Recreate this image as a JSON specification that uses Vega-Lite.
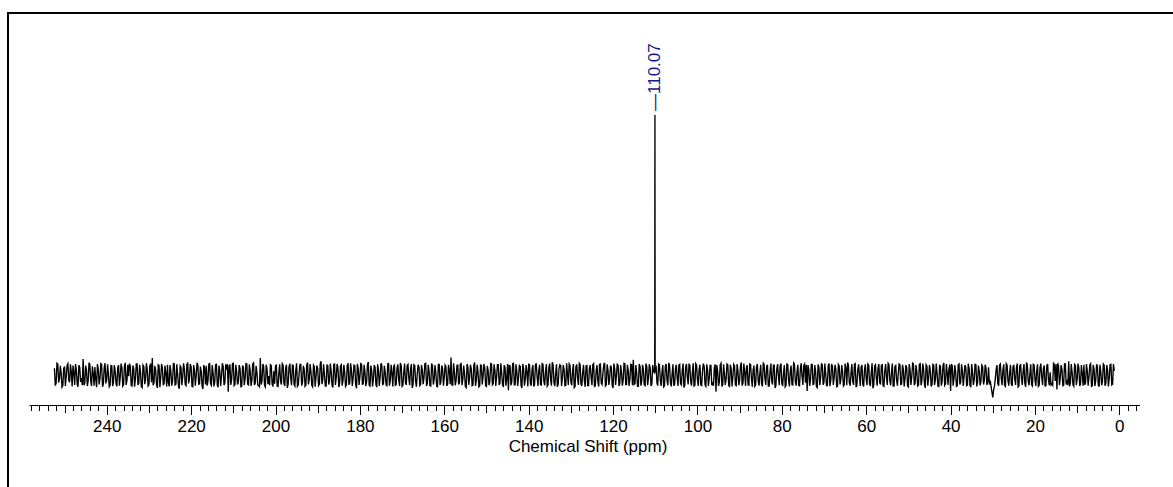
{
"$schema": "https://vega.github.io/schema/vega-lite/v6.json",
"width": 1170,
"height": 480,
"autosize": {"type": "none"},
"padding": {"left": 8, "top": 13, "right": 0, "bottom": 0},
"background": "white",
"config": {"view": {"stroke": "black", "strokeWidth": 2}, "font": "Liberation Sans"},
"datasets": {
"spectrum": [
{"p":252.4,"i":1.8},{"p":252.0,"i":-2.3},{"p":251.6,"i":2.9},{"p":251.2,"i":-1.1},{"p":250.8,"i":0.6},{"p":250.4,"i":-2.8},{"p":250.0,"i":2.2},{"p":249.6,"i":-0.4},{"p":249.2,"i":3.0},{"p":248.8,"i":-1.9},
{"p":248.4,"i":0.9},{"p":248.0,"i":2.5},{"p":247.6,"i":-2.6},{"p":247.2,"i":1.4},{"p":246.8,"i":-3.1},{"p":246.4,"i":2.0},{"p":246.0,"i":-0.8},{"p":245.6,"i":4.2},{"p":245.2,"i":-2.2},{"p":244.8,"i":1.3},
{"p":244.4,"i":-1.6},{"p":244.0,"i":2.7},{"p":243.6,"i":-2.9},{"p":243.2,"i":0.4},{"p":242.8,"i":2.1},{"p":242.4,"i":-3.2},{"p":242.0,"i":1.5},{"p":241.6,"i":-0.9},{"p":241.2,"i":2.8},{"p":240.8,"i":-2.4},
{"p":240.4,"i":3.1},{"p":240.0,"i":-1.3},{"p":239.6,"i":0.2},{"p":239.2,"i":-2.7},{"p":238.8,"i":2.4},{"p":238.4,"i":-1.8},{"p":238.0,"i":1.1},{"p":237.6,"i":-3.0},{"p":237.2,"i":2.6},{"p":236.8,"i":-0.6},
{"p":236.4,"i":1.9},{"p":236.0,"i":-2.5},{"p":235.6,"i":3.2},{"p":235.2,"i":-1.4},{"p":234.8,"i":-0.3},{"p":234.4,"i":2.3},{"p":234.0,"i":-2.9},{"p":233.6,"i":1.6},{"p":233.2,"i":-1.0},{"p":232.8,"i":2.9},
{"p":232.4,"i":-2.1},{"p":232.0,"i":0.8},{"p":231.6,"i":-3.3},{"p":231.2,"i":2.2},{"p":230.8,"i":-1.2},{"p":230.4,"i":1.4},{"p":230.0,"i":-2.6},{"p":229.6,"i":3.0},{"p":229.2,"i":4.5},{"p":228.8,"i":-2.0},
{"p":228.4,"i":1.2},{"p":228.0,"i":-3.4},{"p":227.6,"i":2.5},{"p":227.2,"i":-0.7},{"p":226.8,"i":1.8},{"p":226.4,"i":-2.2},{"p":226.0,"i":0.5},{"p":225.6,"i":2.7},{"p":225.2,"i":-3.0},{"p":224.8,"i":1.0},
{"p":224.4,"i":-1.7},{"p":224.0,"i":2.9},{"p":223.6,"i":-2.4},{"p":223.2,"i":0.3},{"p":222.8,"i":-3.6},{"p":222.4,"i":2.0},{"p":222.0,"i":-0.5},{"p":221.6,"i":1.6},{"p":221.2,"i":-2.8},{"p":220.8,"i":3.3},
{"p":220.4,"i":-1.0},{"p":220.0,"i":2.2},{"p":219.6,"i":-3.1},{"p":219.2,"i":1.3},{"p":218.8,"i":-0.2},{"p":218.4,"i":2.6},{"p":218.0,"i":-2.3},{"p":217.6,"i":0.9},{"p":217.2,"i":-3.7},{"p":216.8,"i":1.9},
{"p":216.4,"i":2.4},{"p":216.0,"i":-1.5},{"p":215.6,"i":3.0},{"p":215.2,"i":-2.7},{"p":214.8,"i":0.7},{"p":214.4,"i":-1.9},{"p":214.0,"i":2.8},{"p":213.6,"i":-3.2},{"p":213.2,"i":1.1},{"p":212.8,"i":-0.4},
{"p":212.4,"i":2.3},{"p":212.0,"i":-2.0},{"p":211.6,"i":1.4},{"p":211.2,"i":-4.4},{"p":210.8,"i":2.6},{"p":210.4,"i":-1.2},{"p":210.0,"i":3.1},{"p":209.6,"i":-2.5},{"p":209.2,"i":0.8},{"p":208.8,"i":-1.8},
{"p":208.4,"i":1.7},{"p":208.0,"i":-3.0},{"p":207.6,"i":2.0},{"p":207.2,"i":-0.9},{"p":206.8,"i":2.9},{"p":206.4,"i":-2.6},{"p":206.0,"i":1.2},{"p":205.6,"i":-1.4},{"p":205.2,"i":3.2},{"p":204.8,"i":-2.1},
{"p":204.4,"i":0.6},{"p":204.0,"i":-2.8},{"p":203.6,"i":4.5},{"p":203.2,"i":-1.6},{"p":202.8,"i":2.3},{"p":202.4,"i":-3.2},{"p":202.0,"i":1.5},{"p":201.6,"i":-0.3},{"p":201.2,"i":2.7},{"p":200.8,"i":-2.4},
{"p":200.4,"i":1.0},{"p":200.0,"i":2.4},{"p":199.6,"i":-2.9},{"p":199.2,"i":0.5},{"p":198.8,"i":-1.7},{"p":198.4,"i":3.0},{"p":198.0,"i":-2.2},{"p":197.6,"i":1.8},{"p":197.2,"i":-3.4},{"p":196.8,"i":2.1},
{"p":196.4,"i":-0.8},{"p":196.0,"i":2.6},{"p":195.6,"i":-2.5},{"p":195.2,"i":1.2},{"p":194.8,"i":-3.0},{"p":194.4,"i":0.4},{"p":194.0,"i":2.8},{"p":193.6,"i":-1.9},{"p":193.2,"i":1.5},{"p":192.8,"i":-2.7},
{"p":192.4,"i":3.3},{"p":192.0,"i":-1.1},{"p":191.6,"i":0.9},{"p":191.2,"i":-3.1},{"p":190.8,"i":2.2},{"p":190.4,"i":-0.6},{"p":190.0,"i":1.7},{"p":189.6,"i":-2.4},{"p":189.2,"i":3.6},{"p":188.8,"i":-1.3},
{"p":188.4,"i":0.2},{"p":188.0,"i":-2.9},{"p":187.6,"i":2.5},{"p":187.2,"i":-1.6},{"p":186.8,"i":1.0},{"p":186.4,"i":-3.3},{"p":186.0,"i":2.9},{"p":185.6,"i":-0.7},{"p":185.2,"i":1.9},{"p":184.8,"i":-2.2},
{"p":184.4,"i":2.7},{"p":184.0,"i":-1.4},{"p":183.6,"i":0.6},{"p":183.2,"i":-2.6},{"p":182.8,"i":3.1},{"p":182.4,"i":-2.0},{"p":182.0,"i":1.3},{"p":181.6,"i":-0.9},{"p":181.2,"i":2.4},{"p":180.8,"i":-3.5},
{"p":180.4,"i":1.6},{"p":180.0,"i":-0.5},{"p":179.6,"i":2.8},{"p":179.2,"i":-2.3},{"p":178.8,"i":0.9},{"p":178.4,"i":-1.8},{"p":178.0,"i":3.4},{"p":177.6,"i":-2.9},{"p":177.2,"i":1.1},{"p":176.8,"i":-1.0},
{"p":176.4,"i":2.0},{"p":176.0,"i":-3.2},{"p":175.6,"i":1.4},{"p":175.2,"i":-0.4},{"p":174.8,"i":2.6},{"p":174.4,"i":-2.1},{"p":174.0,"i":0.7},{"p":173.6,"i":-2.8},{"p":173.2,"i":3.0},{"p":172.8,"i":-1.5},
{"p":172.4,"i":0.5},{"p":172.0,"i":2.3},{"p":171.6,"i":-2.7},{"p":171.2,"i":1.8},{"p":170.8,"i":-1.2},{"p":170.4,"i":3.2},{"p":170.0,"i":-3.0},{"p":169.6,"i":0.8},{"p":169.2,"i":-2.0},{"p":168.8,"i":2.5},
{"p":168.4,"i":-0.9},{"p":168.0,"i":1.5},{"p":167.6,"i":-3.4},{"p":167.2,"i":2.7},{"p":166.8,"i":-1.6},{"p":166.4,"i":0.3},{"p":166.0,"i":2.1},{"p":165.6,"i":-2.5},{"p":165.2,"i":1.2},{"p":164.8,"i":-0.7},
{"p":164.4,"i":3.1},{"p":164.0,"i":-2.2},{"p":163.6,"i":1.0},{"p":163.2,"i":-2.9},{"p":162.8,"i":2.4},{"p":162.4,"i":-1.3},{"p":162.0,"i":0.6},{"p":161.6,"i":-3.1},{"p":161.2,"i":2.8},{"p":160.8,"i":-1.8},
{"p":160.4,"i":1.7},{"p":160.0,"i":-0.6},{"p":159.6,"i":2.2},{"p":159.2,"i":-2.4},{"p":158.8,"i":1.3},{"p":158.4,"i":4.6},{"p":158.0,"i":-2.7},{"p":157.6,"i":0.9},{"p":157.2,"i":-1.5},{"p":156.8,"i":2.6},
{"p":156.4,"i":-2.0},{"p":156.0,"i":3.0},{"p":155.6,"i":-1.1},{"p":155.2,"i":0.4},{"p":154.8,"i":-3.3},{"p":154.4,"i":2.1},{"p":154.0,"i":-0.8},{"p":153.6,"i":1.6},{"p":153.2,"i":-2.6},{"p":152.8,"i":3.3},
{"p":152.4,"i":-1.4},{"p":152.0,"i":0.8},{"p":151.6,"i":-2.8},{"p":151.2,"i":2.5},{"p":150.8,"i":-0.3},{"p":150.4,"i":1.9},{"p":150.0,"i":-3.0},{"p":149.6,"i":1.1},{"p":149.2,"i":-1.7},{"p":148.8,"i":2.9},
{"p":148.4,"i":-2.3},{"p":148.0,"i":1.3},{"p":147.6,"i":-0.5},{"p":147.2,"i":2.7},{"p":146.8,"i":-2.1},{"p":146.4,"i":0.6},{"p":146.0,"i":-3.2},{"p":145.6,"i":2.0},{"p":145.2,"i":-1.0},{"p":144.8,"i":-4.0},
{"p":144.4,"i":2.4},{"p":144.0,"i":-1.9},{"p":143.6,"i":3.1},{"p":143.2,"i":-2.6},{"p":142.8,"i":1.0},{"p":142.4,"i":-0.7},{"p":142.0,"i":2.3},{"p":141.6,"i":-3.4},{"p":141.2,"i":1.8},{"p":140.8,"i":-1.2},
{"p":140.4,"i":0.7},{"p":140.0,"i":2.8},{"p":139.6,"i":-2.2},{"p":139.2,"i":1.5},{"p":138.8,"i":-3.0},{"p":138.4,"i":2.6},{"p":138.0,"i":-0.4},{"p":137.6,"i":1.2},{"p":137.2,"i":-2.5},{"p":136.8,"i":3.0},
{"p":136.4,"i":-1.6},{"p":136.0,"i":0.9},{"p":135.6,"i":-2.9},{"p":135.2,"i":2.1},{"p":134.8,"i":-1.3},{"p":134.4,"i":3.4},{"p":134.0,"i":-2.0},{"p":133.6,"i":0.5},{"p":133.2,"i":-3.1},{"p":132.8,"i":1.7},
{"p":132.4,"i":2.5},{"p":132.0,"i":-0.8},{"p":131.6,"i":1.4},{"p":131.2,"i":-2.7},{"p":130.8,"i":0.2},{"p":130.4,"i":2.9},{"p":130.0,"i":-1.8},{"p":129.6,"i":1.0},{"p":129.2,"i":-3.3},{"p":128.8,"i":2.2},
{"p":128.4,"i":-1.1},{"p":128.0,"i":3.1},{"p":127.6,"i":-2.4},{"p":127.2,"i":0.7},{"p":126.8,"i":-1.5},{"p":126.4,"i":2.4},{"p":126.0,"i":-2.8},{"p":125.6,"i":1.9},{"p":125.2,"i":-0.6},{"p":124.8,"i":2.7},
{"p":124.4,"i":-3.0},{"p":124.0,"i":1.2},{"p":123.6,"i":-1.7},{"p":123.2,"i":2.8},{"p":122.8,"i":-2.1},{"p":122.4,"i":0.5},{"p":122.0,"i":3.2},{"p":121.6,"i":-2.6},{"p":121.2,"i":1.3},{"p":120.8,"i":-0.9},
{"p":120.4,"i":2.0},{"p":120.0,"i":-3.4},{"p":119.6,"i":1.6},{"p":119.2,"i":-0.3},{"p":118.8,"i":2.5},{"p":118.4,"i":-2.2},{"p":118.0,"i":0.8},{"p":117.6,"i":-1.4},{"p":117.2,"i":3.0},{"p":116.8,"i":-2.5},
{"p":116.4,"i":1.1},{"p":116.0,"i":-1.0},{"p":115.6,"i":2.7},{"p":115.2,"i":4.0},{"p":114.8,"i":-2.3},{"p":114.4,"i":0.6},{"p":114.0,"i":-3.0},{"p":113.6,"i":2.3},{"p":113.2,"i":-1.6},{"p":112.8,"i":1.4},
{"p":112.4,"i":-2.8},{"p":112.0,"i":2.2},{"p":111.6,"i":-0.7},{"p":111.2,"i":1.8},{"p":110.8,"i":-2.4},{"p":110.4,"i":1.0},{"p":110.12,"i":0.4},{"p":110.07,"i":68.42},{"p":110.02,"i":0.9},{"p":109.6,"i":-2.1},{"p":109.2,"i":2.9},{"p":108.8,"i":-1.3},
{"p":108.4,"i":0.8},{"p":108.0,"i":-3.1},{"p":107.6,"i":2.4},{"p":107.2,"i":-1.5},{"p":106.8,"i":3.2},{"p":106.4,"i":-2.0},{"p":106.0,"i":0.3},{"p":105.6,"i":-2.7},{"p":105.2,"i":1.7},{"p":104.8,"i":-0.8},
{"p":104.4,"i":2.6},{"p":104.0,"i":-2.3},{"p":103.6,"i":1.1},{"p":103.2,"i":-3.3},{"p":102.8,"i":2.0},{"p":102.4,"i":-0.5},{"p":102.0,"i":2.8},{"p":101.6,"i":-1.7},{"p":101.2,"i":0.6},{"p":100.8,"i":-2.9},
{"p":100.4,"i":3.0},{"p":100.0,"i":-1.2},{"p":99.6,"i":1.5},{"p":99.2,"i":-2.6},{"p":98.8,"i":0.9},{"p":98.4,"i":2.3},{"p":98.0,"i":-3.0},{"p":97.6,"i":1.4},{"p":97.2,"i":-0.9},{"p":96.8,"i":2.5},
{"p":96.4,"i":-2.2},{"p":96.0,"i":1.9},{"p":95.6,"i":-4.4},{"p":95.2,"i":1.0},{"p":94.8,"i":-1.8},{"p":94.4,"i":3.1},{"p":94.0,"i":-2.5},{"p":93.6,"i":0.4},{"p":93.2,"i":-1.1},{"p":92.8,"i":2.7},
{"p":92.4,"i":-3.2},{"p":92.0,"i":1.6},{"p":91.6,"i":-0.6},{"p":91.2,"i":2.4},{"p":90.8,"i":-2.8},{"p":90.4,"i":1.2},{"p":90.0,"i":-1.4},{"p":89.6,"i":3.3},{"p":89.2,"i":-2.1},{"p":88.8,"i":0.7},
{"p":88.4,"i":1.8},{"p":88.0,"i":-2.6},{"p":87.6,"i":2.9},{"p":87.2,"i":-0.9},{"p":86.8,"i":1.3},{"p":86.4,"i":-3.0},{"p":86.0,"i":2.1},{"p":85.6,"i":-1.5},{"p":85.2,"i":0.5},{"p":84.8,"i":-2.3},
{"p":84.4,"i":3.1},{"p":84.0,"i":-1.0},{"p":83.6,"i":2.2},{"p":83.2,"i":-2.9},{"p":82.8,"i":0.8},{"p":82.4,"i":-1.6},{"p":82.0,"i":2.6},{"p":81.6,"i":-3.4},{"p":81.2,"i":1.5},{"p":80.8,"i":-0.4},
{"p":80.4,"i":2.4},{"p":80.0,"i":-2.2},{"p":79.6,"i":0.6},{"p":79.2,"i":-3.1},{"p":78.8,"i":2.9},{"p":78.4,"i":-1.3},{"p":78.0,"i":1.0},{"p":77.6,"i":-2.5},{"p":77.2,"i":3.2},{"p":76.8,"i":-1.8},
{"p":76.4,"i":0.9},{"p":76.0,"i":-2.7},{"p":75.6,"i":1.7},{"p":75.2,"i":-0.5},{"p":74.8,"i":2.5},{"p":74.4,"i":-2.0},{"p":74.0,"i":-4.2},{"p":73.6,"i":1.4},{"p":73.2,"i":-1.2},{"p":72.8,"i":2.8},
{"p":72.4,"i":-2.4},{"p":72.0,"i":1.1},{"p":71.6,"i":-3.3},{"p":71.2,"i":2.0},{"p":70.8,"i":-0.7},{"p":70.4,"i":2.7},{"p":70.0,"i":-1.9},{"p":69.6,"i":0.4},{"p":69.2,"i":-2.8},{"p":68.8,"i":3.0},
{"p":68.4,"i":-1.5},{"p":68.0,"i":2.3},{"p":67.6,"i":-0.8},{"p":67.2,"i":1.6},{"p":66.8,"i":-3.0},{"p":66.4,"i":2.4},{"p":66.0,"i":-1.2},{"p":65.6,"i":0.9},{"p":65.2,"i":-2.6},{"p":64.8,"i":1.9},
{"p":64.4,"i":3.3},{"p":64.0,"i":-2.1},{"p":63.6,"i":0.5},{"p":63.2,"i":-1.7},{"p":62.8,"i":2.8},{"p":62.4,"i":-3.2},{"p":62.0,"i":1.3},{"p":61.6,"i":-0.3},{"p":61.2,"i":2.1},{"p":60.8,"i":-2.5},
{"p":60.4,"i":1.4},{"p":60.0,"i":-1.1},{"p":59.6,"i":2.9},{"p":59.2,"i":-2.3},{"p":58.8,"i":0.7},{"p":58.4,"i":-3.5},{"p":58.0,"i":2.4},{"p":57.6,"i":-0.9},{"p":57.2,"i":1.8},{"p":56.8,"i":-2.0},
{"p":56.4,"i":2.6},{"p":56.0,"i":-2.8},{"p":55.6,"i":1.0},{"p":55.2,"i":-0.6},{"p":54.8,"i":3.1},{"p":54.4,"i":-1.6},{"p":54.0,"i":0.8},{"p":53.6,"i":-2.9},{"p":53.2,"i":2.2},{"p":52.8,"i":-1.3},
{"p":52.4,"i":0.3},{"p":52.0,"i":2.7},{"p":51.6,"i":-2.4},{"p":51.2,"i":1.5},{"p":50.8,"i":-1.0},{"p":50.4,"i":2.0},{"p":50.0,"i":-3.1},{"p":49.6,"i":1.2},{"p":49.2,"i":-0.5},{"p":48.8,"i":2.9},
{"p":48.4,"i":-2.1},{"p":48.0,"i":0.9},{"p":47.6,"i":-2.7},{"p":47.2,"i":3.0},{"p":46.8,"i":-1.4},{"p":46.4,"i":1.7},{"p":46.0,"i":-3.4},{"p":45.6,"i":2.3},{"p":45.2,"i":-0.8},{"p":44.8,"i":1.1},
{"p":44.4,"i":-2.5},{"p":44.0,"i":2.6},{"p":43.6,"i":-1.2},{"p":43.2,"i":0.4},{"p":42.8,"i":-3.0},{"p":42.4,"i":2.2},{"p":42.0,"i":-1.7},{"p":41.6,"i":3.2},{"p":41.2,"i":-2.3},{"p":40.8,"i":0.6},
{"p":40.4,"i":1.5},{"p":40.0,"i":-4.2},{"p":39.6,"i":2.4},{"p":39.2,"i":-1.1},{"p":38.8,"i":0.7},{"p":38.4,"i":-2.8},{"p":38.0,"i":2.9},{"p":37.6,"i":-1.9},{"p":37.2,"i":1.2},{"p":36.8,"i":-0.4},
{"p":36.4,"i":2.1},{"p":36.0,"i":-2.6},{"p":35.6,"i":1.6},{"p":35.2,"i":-3.2},{"p":34.8,"i":0.8},{"p":34.4,"i":-1.3},{"p":34.0,"i":2.7},{"p":33.6,"i":-2.0},{"p":33.2,"i":1.0},{"p":32.8,"i":-1.6},
{"p":32.4,"i":2.2},{"p":32.0,"i":-1.4},{"p":31.6,"i":1.8},{"p":31.2,"i":-1.9},{"p":30.8,"i":-2.5},{"p":30.4,"i":-3.0},{"p":30.0,"i":-5.9},{"p":29.6,"i":-3.0},{"p":29.2,"i":1.4},{"p":28.8,"i":-2.3},
{"p":28.4,"i":2.6},{"p":28.0,"i":-0.7},{"p":27.6,"i":1.3},{"p":27.2,"i":-2.7},{"p":26.8,"i":3.0},{"p":26.4,"i":-1.5},{"p":26.0,"i":0.6},{"p":25.6,"i":-2.4},{"p":25.2,"i":2.3},{"p":24.8,"i":-1.0},
{"p":24.4,"i":1.9},{"p":24.0,"i":-3.1},{"p":23.6,"i":2.5},{"p":23.2,"i":-0.9},{"p":22.8,"i":1.1},{"p":22.4,"i":-2.2},{"p":22.0,"i":3.3},{"p":21.6,"i":-1.8},{"p":21.2,"i":0.4},{"p":20.8,"i":-2.6},
{"p":20.4,"i":2.8},{"p":20.0,"i":-1.2},{"p":19.6,"i":0.9},{"p":19.2,"i":-3.0},{"p":18.8,"i":2.0},{"p":18.4,"i":-0.5},{"p":18.0,"i":1.7},{"p":17.6,"i":-2.9},{"p":17.2,"i":2.4},{"p":16.8,"i":-1.4},
{"p":16.4,"i":0.7},{"p":16.0,"i":-2.3},{"p":15.6,"i":3.1},{"p":15.2,"i":-1.6},{"p":14.8,"i":-3.8},{"p":14.4,"i":2.2},{"p":14.0,"i":-0.8},{"p":13.6,"i":1.4},{"p":13.2,"i":-2.7},{"p":12.8,"i":2.9},
{"p":12.4,"i":-1.3},{"p":12.0,"i":3.6},{"p":11.6,"i":-2.1},{"p":11.2,"i":0.8},{"p":10.8,"i":-3.0},{"p":10.4,"i":2.5},{"p":10.0,"i":-1.1},{"p":9.6,"i":1.9},{"p":9.2,"i":-2.4},{"p":8.8,"i":0.5},
{"p":8.4,"i":2.7},{"p":8.0,"i":-2.0},{"p":7.6,"i":1.2},{"p":7.2,"i":-0.6},{"p":6.8,"i":3.0},{"p":6.4,"i":-2.8},{"p":6.0,"i":1.6},{"p":5.6,"i":-1.5},{"p":5.2,"i":2.3},{"p":4.8,"i":-3.1},
{"p":4.4,"i":0.9},{"p":4.0,"i":-1.7},{"p":3.6,"i":2.6},{"p":3.2,"i":-2.2},{"p":2.8,"i":1.4},{"p":2.4,"i":-0.9},{"p":2.0,"i":2.8},{"p":1.6,"i":-2.4},{"p":1.2,"i":1.1},
{"p":252.2,"i":-2.6},{"p":251.8,"i":3.1},{"p":251.4,"i":-2.0},{"p":251.0,"i":2.4},{"p":250.6,"i":-3.2},{"p":250.2,"i":1.7},{"p":249.8,"i":-2.9},{"p":249.4,"i":2.6},{"p":249.0,"i":-1.4},{"p":248.6,"i":2.8},
{"p":248.2,"i":-3.0},{"p":247.8,"i":0.7},{"p":247.4,"i":2.9},{"p":247.0,"i":-2.4},{"p":246.6,"i":2.6},{"p":246.2,"i":-1.8},{"p":245.8,"i":-2.7},{"p":245.4,"i":-2.7},{"p":245.0,"i":2.5},{"p":244.6,"i":-2.9},
{"p":244.2,"i":3.2},{"p":243.8,"i":-1.5},{"p":243.4,"i":2.3},{"p":243.0,"i":-2.8},{"p":242.6,"i":-1.2},{"p":242.2,"i":2.9},{"p":241.8,"i":-2.5},{"p":241.4,"i":3.0},{"p":241.0,"i":-3.1},{"p":240.6,"i":1.9},
{"p":240.2,"i":-2.2},{"p":239.8,"i":2.8},{"p":239.4,"i":-3.1},{"p":239.0,"i":2.5},{"p":238.6,"i":-2.9},{"p":238.2,"i":2.6},{"p":237.8,"i":-2.2},{"p":237.4,"i":1.9},{"p":237.0,"i":-2.8},{"p":236.6,"i":3.0},
{"p":236.2,"i":-2.9},{"p":235.8,"i":2.4},{"p":235.4,"i":-2.6},{"p":235.0,"i":2.7},{"p":234.6,"i":3.0},{"p":234.2,"i":-2.8},{"p":233.8,"i":2.5},{"p":233.4,"i":-3.1},{"p":233.0,"i":2.9},{"p":232.6,"i":-2.6},
{"p":232.2,"i":2.7},{"p":231.8,"i":-3.0},{"p":231.4,"i":2.6},{"p":231.0,"i":-2.4},{"p":230.6,"i":3.1},{"p":230.2,"i":-2.9},{"p":229.8,"i":2.3},{"p":229.4,"i":-1.9},{"p":229.0,"i":-2.7},{"p":228.6,"i":2.4},
{"p":228.2,"i":-2.5},{"p":227.8,"i":2.7},{"p":227.4,"i":-3.2},{"p":227.0,"i":2.9},{"p":226.6,"i":-2.7},{"p":226.2,"i":2.5},{"p":225.8,"i":-3.0},{"p":225.4,"i":-2.1},{"p":225.0,"i":2.6},{"p":224.6,"i":-2.8},
{"p":224.2,"i":3.0},{"p":223.8,"i":-2.6},{"p":223.4,"i":2.8},{"p":223.0,"i":-2.9},{"p":222.6,"i":2.4},{"p":222.2,"i":-2.7},{"p":221.8,"i":3.1},{"p":221.4,"i":-2.5},{"p":221.0,"i":2.7},{"p":220.6,"i":-2.2},
{"p":220.2,"i":2.9},{"p":219.8,"i":-3.0},{"p":219.4,"i":2.6},{"p":219.0,"i":-2.8},{"p":218.6,"i":3.2},{"p":218.2,"i":-2.4},{"p":217.8,"i":2.2},{"p":217.4,"i":-2.9},{"p":217.0,"i":2.6},{"p":216.6,"i":-2.5},
{"p":216.2,"i":-2.8},{"p":215.8,"i":2.9},{"p":215.4,"i":-2.3},{"p":215.0,"i":2.6},{"p":214.6,"i":-3.0},{"p":214.2,"i":2.7},{"p":213.8,"i":-2.6},{"p":213.4,"i":2.5},{"p":213.0,"i":-2.9},{"p":212.6,"i":3.1},
{"p":212.2,"i":-2.7},{"p":211.8,"i":2.8},{"p":211.4,"i":2.9},{"p":211.0,"i":2.4},{"p":210.6,"i":-2.6},{"p":210.2,"i":3.0},{"p":209.8,"i":-2.8},{"p":209.4,"i":2.7},{"p":209.0,"i":-2.5},{"p":208.6,"i":2.6},
{"p":208.2,"i":-3.1},{"p":207.8,"i":2.5},{"p":207.4,"i":-2.7},{"p":207.0,"i":3.0},{"p":206.6,"i":-2.4},{"p":206.2,"i":2.8},{"p":205.8,"i":-2.9},{"p":205.4,"i":2.9},{"p":205.0,"i":-2.6},{"p":204.6,"i":2.4},
{"p":204.2,"i":-2.6},{"p":203.8,"i":-3.1},{"p":203.4,"i":-2.5},{"p":203.0,"i":2.9},{"p":202.6,"i":-2.8},{"p":202.2,"i":2.7},{"p":201.8,"i":-2.4},{"p":201.4,"i":-2.7},{"p":201.0,"i":2.5},{"p":200.6,"i":-3.0},
{"p":200.2,"i":-2.3},{"p":199.8,"i":2.6},{"p":199.4,"i":-3.0},{"p":199.0,"i":2.8},{"p":198.6,"i":-2.5},{"p":198.2,"i":2.6},{"p":197.8,"i":-2.9},{"p":197.4,"i":2.7},{"p":197.0,"i":-2.4},{"p":196.6,"i":3.0},
{"p":196.2,"i":-2.7},{"p":195.8,"i":2.5},{"p":195.4,"i":-2.9},{"p":195.0,"i":3.1},{"p":194.6,"i":-2.6},{"p":194.2,"i":2.8},{"p":193.8,"i":-2.8},{"p":193.4,"i":2.4},{"p":193.0,"i":-3.0},{"p":192.6,"i":2.6},
{"p":192.2,"i":-2.5},{"p":191.8,"i":2.9},{"p":191.4,"i":-2.7},{"p":191.0,"i":2.6},{"p":190.6,"i":-3.1},{"p":190.2,"i":2.5},{"p":189.8,"i":-2.8},{"p":189.4,"i":2.9},{"p":189.0,"i":-2.4},{"p":188.6,"i":2.8},
{"p":188.2,"i":-2.9},{"p":187.8,"i":2.6},{"p":187.4,"i":-2.5},{"p":187.0,"i":3.0},{"p":186.6,"i":-2.7},{"p":186.2,"i":2.8},{"p":185.8,"i":-2.6},{"p":185.4,"i":2.9},{"p":185.0,"i":-3.2},{"p":184.6,"i":2.4},
{"p":184.2,"i":-2.8},{"p":183.8,"i":2.7},{"p":183.4,"i":-3.0},{"p":183.0,"i":2.5},{"p":182.6,"i":-2.6},{"p":182.2,"i":3.1},{"p":181.8,"i":-2.9},{"p":181.4,"i":2.6},{"p":181.0,"i":-2.5},{"p":180.6,"i":2.9},
{"p":180.2,"i":-2.6},{"p":179.8,"i":3.0},{"p":179.4,"i":-2.4},{"p":179.0,"i":2.7},{"p":178.6,"i":-2.9},{"p":178.2,"i":2.8},{"p":177.8,"i":-2.7},{"p":177.4,"i":2.5},{"p":177.0,"i":-3.0},{"p":176.6,"i":2.6},
{"p":176.2,"i":-2.5},{"p":175.8,"i":2.8},{"p":175.4,"i":-2.9},{"p":175.0,"i":3.1},{"p":174.6,"i":-2.7},{"p":174.2,"i":2.4},{"p":173.8,"i":-2.6},{"p":173.4,"i":2.9},{"p":173.0,"i":-2.8},{"p":172.6,"i":2.7},
{"p":172.2,"i":-3.0},{"p":171.8,"i":2.6},{"p":171.4,"i":-2.5},{"p":171.0,"i":2.8},{"p":170.6,"i":-2.9},{"p":170.2,"i":2.4},{"p":169.8,"i":-2.7},{"p":169.4,"i":3.0},{"p":169.0,"i":-2.6},{"p":168.6,"i":2.8},
{"p":168.2,"i":-2.7},{"p":167.8,"i":2.9},{"p":167.4,"i":-2.6},{"p":167.0,"i":2.5},{"p":166.6,"i":-3.1},{"p":166.2,"i":2.7},{"p":165.8,"i":-2.8},{"p":165.4,"i":2.6},{"p":165.0,"i":-2.4},{"p":164.6,"i":3.0},
{"p":164.2,"i":-2.9},{"p":163.8,"i":2.7},{"p":163.4,"i":-2.8},{"p":163.0,"i":3.0},{"p":162.6,"i":-2.5},{"p":162.2,"i":2.6},{"p":161.8,"i":-3.0},{"p":161.4,"i":2.8},{"p":161.0,"i":-2.6},{"p":160.6,"i":2.5},
{"p":160.2,"i":-2.8},{"p":159.8,"i":2.6},{"p":159.4,"i":-2.9},{"p":159.0,"i":2.7},{"p":158.6,"i":-2.4},{"p":158.2,"i":-2.6},{"p":157.8,"i":3.1},{"p":157.4,"i":-2.7},{"p":157.0,"i":2.5},{"p":156.6,"i":-2.5},
{"p":156.2,"i":2.8},{"p":155.8,"i":-2.7},{"p":155.4,"i":2.5},{"p":155.0,"i":-3.0},{"p":154.6,"i":2.9},{"p":154.2,"i":-2.6},{"p":153.8,"i":2.7},{"p":153.4,"i":-2.8},{"p":153.0,"i":2.6},{"p":152.6,"i":-2.9},
{"p":152.2,"i":2.7},{"p":151.8,"i":-3.1},{"p":151.4,"i":2.6},{"p":151.0,"i":-2.5},{"p":150.6,"i":2.9},{"p":150.2,"i":-2.8},{"p":149.8,"i":2.4},{"p":149.4,"i":-2.7},{"p":149.0,"i":3.0},{"p":148.6,"i":-2.6},
{"p":148.2,"i":2.8},{"p":147.8,"i":-2.9},{"p":147.4,"i":2.7},{"p":147.0,"i":-2.6},{"p":146.6,"i":3.1},{"p":146.2,"i":-2.4},{"p":145.8,"i":2.6},{"p":145.4,"i":-2.8},{"p":145.0,"i":2.9},{"p":144.6,"i":2.5},
{"p":144.2,"i":-2.7},{"p":143.8,"i":3.0},{"p":143.4,"i":-2.6},{"p":143.0,"i":2.8},{"p":142.6,"i":-2.9},{"p":142.2,"i":2.5},{"p":141.8,"i":-2.7},{"p":141.4,"i":2.9},{"p":141.0,"i":-2.8},{"p":140.6,"i":2.6},
{"p":140.2,"i":-3.0},{"p":139.8,"i":2.7},{"p":139.4,"i":-2.8},{"p":139.0,"i":2.6},{"p":138.6,"i":-2.5},{"p":138.2,"i":3.1},{"p":137.8,"i":-2.9},{"p":137.4,"i":2.7},{"p":137.0,"i":-2.6},{"p":136.6,"i":2.8},
{"p":136.2,"i":-2.7},{"p":135.8,"i":2.9},{"p":135.4,"i":-2.5},{"p":135.0,"i":3.0},{"p":134.6,"i":-2.8},{"p":134.2,"i":2.6},{"p":133.8,"i":-2.9},{"p":133.4,"i":2.8},{"p":133.0,"i":-2.4},{"p":132.6,"i":2.7},
{"p":132.2,"i":-2.9},{"p":131.8,"i":2.6},{"p":131.4,"i":-2.8},{"p":131.0,"i":3.1},{"p":130.6,"i":-2.6},{"p":130.2,"i":2.5},{"p":129.8,"i":-2.7},{"p":129.4,"i":2.9},{"p":129.0,"i":-3.0},{"p":128.6,"i":2.8},
{"p":128.2,"i":-2.6},{"p":127.8,"i":2.8},{"p":127.4,"i":-2.9},{"p":127.0,"i":2.7},{"p":126.6,"i":-3.1},{"p":126.2,"i":2.5},{"p":125.8,"i":-2.8},{"p":125.4,"i":2.6},{"p":125.0,"i":-2.7},{"p":124.6,"i":3.0},
{"p":124.2,"i":-2.8},{"p":123.8,"i":2.6},{"p":123.4,"i":-3.0},{"p":123.0,"i":2.9},{"p":122.6,"i":-2.5},{"p":122.2,"i":2.7},{"p":121.8,"i":-2.9},{"p":121.4,"i":2.8},{"p":121.0,"i":-2.6},{"p":120.6,"i":2.5},
{"p":120.2,"i":-2.7},{"p":119.8,"i":3.0},{"p":119.4,"i":-2.6},{"p":119.0,"i":2.8},{"p":118.6,"i":-2.9},{"p":118.2,"i":2.6},{"p":117.8,"i":-2.8},{"p":117.4,"i":3.1},{"p":117.0,"i":-2.5},{"p":116.6,"i":2.7},
{"p":116.2,"i":-2.9},{"p":115.8,"i":2.8},{"p":115.4,"i":-2.7},{"p":115.0,"i":-2.5},{"p":114.6,"i":2.6},{"p":114.2,"i":-3.0},{"p":113.8,"i":2.9},{"p":113.4,"i":-2.8},{"p":113.0,"i":2.7},{"p":112.6,"i":-2.6},
{"p":112.2,"i":3.0},{"p":111.8,"i":-2.7},{"p":111.4,"i":2.8},{"p":111.0,"i":-2.9},{"p":110.6,"i":2.6},{"p":109.8,"i":2.5},{"p":109.4,"i":-2.8},{"p":109.0,"i":2.7},{"p":108.6,"i":-2.9},
{"p":108.2,"i":2.6},{"p":107.8,"i":-2.8},{"p":107.4,"i":2.9},{"p":107.0,"i":-2.7},{"p":106.6,"i":2.5},{"p":106.2,"i":-3.0},{"p":105.8,"i":2.8},{"p":105.4,"i":-2.6},{"p":105.0,"i":2.7},{"p":104.6,"i":-2.9},
{"p":104.2,"i":2.8},{"p":103.8,"i":-2.6},{"p":103.4,"i":3.0},{"p":103.0,"i":-2.7},{"p":102.6,"i":2.9},{"p":102.2,"i":-2.5},{"p":101.8,"i":2.6},{"p":101.4,"i":-2.8},{"p":101.0,"i":3.1},{"p":100.6,"i":-2.7},
{"p":100.2,"i":2.6},{"p":99.8,"i":-2.9},{"p":99.4,"i":2.7},{"p":99.0,"i":-2.8},{"p":98.6,"i":3.0},{"p":98.2,"i":-2.6},{"p":97.8,"i":2.8},{"p":97.4,"i":-2.9},{"p":97.0,"i":2.5},{"p":96.6,"i":-2.7},
{"p":96.2,"i":-2.8},{"p":95.8,"i":2.8},{"p":95.4,"i":2.6},{"p":95.0,"i":-2.9},{"p":94.6,"i":2.7},{"p":94.2,"i":-3.0},{"p":93.8,"i":2.8},{"p":93.4,"i":-2.6},{"p":93.0,"i":2.9},{"p":92.6,"i":-2.5},
{"p":92.2,"i":2.7},{"p":91.8,"i":-3.0},{"p":91.4,"i":2.8},{"p":91.0,"i":-2.6},{"p":90.6,"i":2.9},{"p":90.2,"i":-2.7},{"p":89.8,"i":2.5},{"p":89.4,"i":-2.8},{"p":89.0,"i":3.0},{"p":88.6,"i":-2.9},
{"p":88.2,"i":2.6},{"p":87.8,"i":-2.7},{"p":87.4,"i":2.8},{"p":87.0,"i":-3.1},{"p":86.6,"i":2.5},{"p":86.2,"i":-2.6},{"p":85.8,"i":2.9},{"p":85.4,"i":-2.8},{"p":85.0,"i":2.7},{"p":84.6,"i":-3.0},
{"p":84.2,"i":2.8},{"p":83.8,"i":-2.6},{"p":83.4,"i":2.7},{"p":83.0,"i":-2.9},{"p":82.6,"i":3.0},{"p":82.2,"i":-2.5},{"p":81.8,"i":2.6},{"p":81.4,"i":-2.8},{"p":81.0,"i":2.9},{"p":80.6,"i":-2.7},
{"p":80.2,"i":3.0},{"p":79.8,"i":-2.9},{"p":79.4,"i":2.6},{"p":79.0,"i":-2.7},{"p":78.6,"i":2.8},{"p":78.2,"i":-3.0},{"p":77.8,"i":2.5},{"p":77.4,"i":-2.6},{"p":77.0,"i":2.9},{"p":76.6,"i":-2.8},
{"p":76.2,"i":2.7},{"p":75.8,"i":-2.8},{"p":75.4,"i":3.1},{"p":75.0,"i":-2.6},{"p":74.6,"i":2.9},{"p":74.2,"i":2.7},{"p":73.8,"i":2.6},{"p":73.4,"i":-2.9},{"p":73.0,"i":2.8},{"p":72.6,"i":-2.5},
{"p":72.2,"i":2.6},{"p":71.8,"i":-3.0},{"p":71.4,"i":2.8},{"p":71.0,"i":-2.7},{"p":70.6,"i":2.9},{"p":70.2,"i":-2.6},{"p":69.8,"i":3.0},{"p":69.4,"i":-2.8},{"p":69.0,"i":2.5},{"p":68.6,"i":-2.9},
{"p":68.2,"i":2.9},{"p":67.8,"i":-2.6},{"p":67.4,"i":2.7},{"p":67.0,"i":-3.1},{"p":66.6,"i":2.8},{"p":66.2,"i":-2.5},{"p":65.8,"i":2.6},{"p":65.4,"i":-2.9},{"p":65.0,"i":3.0},{"p":64.6,"i":-2.7},
{"p":64.2,"i":2.5},{"p":63.8,"i":-2.8},{"p":63.4,"i":2.9},{"p":63.0,"i":-2.6},{"p":62.6,"i":3.0},{"p":62.2,"i":-2.7},{"p":61.8,"i":2.8},{"p":61.4,"i":-2.9},{"p":61.0,"i":2.6},{"p":60.6,"i":-3.0},
{"p":60.2,"i":2.8},{"p":59.8,"i":-2.7},{"p":59.4,"i":2.6},{"p":59.0,"i":-2.9},{"p":58.6,"i":3.1},{"p":58.2,"i":-2.6},{"p":57.8,"i":2.7},{"p":57.4,"i":-2.8},{"p":57.0,"i":2.9},{"p":56.6,"i":-2.5},
{"p":56.2,"i":2.7},{"p":55.8,"i":-3.0},{"p":55.4,"i":2.9},{"p":55.0,"i":-2.6},{"p":54.6,"i":2.8},{"p":54.2,"i":-2.7},{"p":53.8,"i":3.0},{"p":53.4,"i":-2.9},{"p":53.0,"i":2.5},{"p":52.6,"i":-2.8},
{"p":52.2,"i":2.9},{"p":51.8,"i":-2.5},{"p":51.4,"i":2.7},{"p":51.0,"i":-3.0},{"p":50.6,"i":2.6},{"p":50.2,"i":-2.8},{"p":49.8,"i":2.9},{"p":49.4,"i":-2.6},{"p":49.0,"i":3.1},{"p":48.6,"i":-2.7},
{"p":48.2,"i":2.6},{"p":47.8,"i":-2.9},{"p":47.4,"i":2.8},{"p":47.0,"i":-2.7},{"p":46.6,"i":3.0},{"p":46.2,"i":-2.5},{"p":45.8,"i":2.7},{"p":45.4,"i":-2.8},{"p":45.0,"i":2.6},{"p":44.6,"i":-3.0},
{"p":44.2,"i":2.8},{"p":43.8,"i":-2.6},{"p":43.4,"i":3.0},{"p":43.0,"i":-2.9},{"p":42.6,"i":2.7},{"p":42.2,"i":-2.8},{"p":41.8,"i":2.5},{"p":41.4,"i":-2.7},{"p":41.0,"i":2.9},{"p":40.6,"i":-2.6},
{"p":40.2,"i":2.7},{"p":39.8,"i":2.9},{"p":39.4,"i":-2.8},{"p":39.0,"i":2.6},{"p":38.6,"i":-3.0},{"p":38.2,"i":2.7},{"p":37.8,"i":-2.5},{"p":37.4,"i":2.8},{"p":37.0,"i":-2.9},{"p":36.6,"i":2.6},
{"p":36.2,"i":-2.8},{"p":35.8,"i":3.0},{"p":35.4,"i":-2.7},{"p":35.0,"i":2.9},{"p":34.6,"i":-2.6},{"p":34.2,"i":2.8},{"p":33.8,"i":-3.0},{"p":33.4,"i":2.5},{"p":33.0,"i":-2.7},{"p":32.6,"i":2.6},
{"p":32.2,"i":-2.5},{"p":31.8,"i":2.7},{"p":31.4,"i":-2.6},{"p":31.0,"i":2.0},{"p":30.6,"i":-1.5},{"p":30.2,"i":-4.5},{"p":29.8,"i":-4.0},{"p":29.4,"i":-1.0},{"p":29.0,"i":2.6},{"p":28.6,"i":-2.8},
{"p":28.2,"i":2.9},{"p":27.8,"i":-2.7},{"p":27.4,"i":2.8},{"p":27.0,"i":-3.0},{"p":26.6,"i":2.6},{"p":26.2,"i":-2.8},{"p":25.8,"i":2.7},{"p":25.4,"i":-2.9},{"p":25.0,"i":2.5},{"p":24.6,"i":-2.6},
{"p":24.2,"i":3.0},{"p":23.8,"i":-2.8},{"p":23.4,"i":2.7},{"p":23.0,"i":-2.6},{"p":22.6,"i":2.9},{"p":22.2,"i":-3.1},{"p":21.8,"i":2.6},{"p":21.4,"i":-2.7},{"p":21.0,"i":2.8},{"p":20.6,"i":-2.9},
{"p":20.2,"i":2.6},{"p":19.8,"i":-2.9},{"p":19.4,"i":2.8},{"p":19.0,"i":-2.7},{"p":18.6,"i":3.0},{"p":18.2,"i":-2.6},{"p":17.8,"i":2.5},{"p":17.4,"i":-2.8},{"p":17.0,"i":2.9},{"p":16.6,"i":-2.7},
{"p":16.2,"i":-2.6},{"p":15.8,"i":-2.7},{"p":15.4,"i":2.8},{"p":15.0,"i":2.9},{"p":14.6,"i":3.1},{"p":14.2,"i":-2.7},{"p":13.8,"i":2.6},{"p":13.4,"i":-2.8},{"p":13.0,"i":2.9},{"p":12.6,"i":-2.5},
{"p":12.2,"i":-2.7},{"p":11.8,"i":-3.0},{"p":11.4,"i":2.9},{"p":11.0,"i":-2.6},{"p":10.6,"i":2.8},{"p":10.2,"i":-2.7},{"p":9.8,"i":3.0},{"p":9.4,"i":-2.9},{"p":9.0,"i":2.6},{"p":8.6,"i":-2.8},
{"p":8.2,"i":-2.6},{"p":7.8,"i":2.9},{"p":7.4,"i":-2.8},{"p":7.0,"i":2.7},{"p":6.6,"i":-3.0},{"p":6.2,"i":2.6},{"p":5.8,"i":-2.9},{"p":5.4,"i":2.8},{"p":5.0,"i":-2.5},{"p":4.6,"i":2.7},
{"p":4.2,"i":-2.7},{"p":3.8,"i":2.9},{"p":3.4,"i":-2.8},{"p":3.0,"i":2.6},{"p":2.6,"i":-3.0},{"p":2.2,"i":2.7},{"p":1.8,"i":-2.6},{"p":1.4,"i":2.9}
],
"axisline": [{"start": 258.3, "end": -4.9}],
"peaklabel": [{"p": 110.07, "i": 68.42, "label": "—110.07"}]
},
"layer": [
{
"data": {"name": "spectrum"},
"mark": {"type": "line", "color": "black", "strokeWidth": 1.35},
"encoding": {
"x": {"field": "p", "type": "quantitative",
"scale": {"domain": [-13.9, 263.4], "reverse": true, "nice": false, "zero": false},
"axis": {
"orient": "bottom", "offset": -87.5, "domain": false, "grid": false, "tickCount": 1000, "format": "d",
"values": [258,256,254,252,250,248,246,244,242,240,238,236,234,232,230,228,226,224,222,220,218,216,214,212,210,208,206,204,202,200,198,196,194,192,190,188,186,184,182,180,178,176,174,172,170,168,166,164,162,160,158,156,154,152,150,148,146,144,142,140,138,136,134,132,130,128,126,124,122,120,118,116,114,112,110,108,106,104,102,100,98,96,94,92,90,88,86,84,82,80,78,76,74,72,70,68,66,64,62,60,58,56,54,52,50,48,46,44,42,40,38,36,34,32,30,28,26,24,22,20,18,16,14,12,10,8,6,4,2,0,-2,-4],
"tickColor": "black", "tickWidth": 1,
"tickSize": {"condition": [{"test": "datum.value % 20 === 0", "value": 9}, {"test": "datum.value % 10 === 0", "value": 7}], "value": 5},
"labelExpr": "(datum.value % 20 === 0 && datum.value >= 0 && datum.value <= 240) ? datum.label : ''",
"labelFont": "Liberation Sans", "labelFontSize": 17, "labelColor": "black", "labelPadding": 4,
"labelOverlap": false, "labelFlush": false,
"title": "Chemical Shift (ppm)", "titleFont": "Liberation Sans", "titleFontSize": 17, "titleFontWeight": "normal",
"titleColor": "black", "titleX": 579.5, "titleY": 45.5, "titleBaseline": "alphabetic", "titleAlign": "center"
}},
"y": {"field": "i", "type": "quantitative",
"scale": {"domain": [-31.05, 95.26], "nice": false, "zero": false}, "axis": null}
}
},
{
"data": {"name": "axisline"},
"mark": {"type": "rule", "color": "black", "strokeWidth": 1},
"encoding": {
"x": {"field": "start", "type": "quantitative", "scale": {"domain": [-13.9, 263.4], "reverse": true, "nice": false, "zero": false}},
"x2": {"field": "end"},
"y": {"datum": -8.03, "type": "quantitative", "scale": {"domain": [-31.05, 95.26], "nice": false, "zero": false}}
}
},
{
"data": {"name": "peaklabel"},
"mark": {"type": "text", "angle": 270, "align": "left", "baseline": "middle", "dx": 4, "fontSize": 17, "font": "Liberation Sans", "color": "#14148a"},
"encoding": {
"x": {"field": "p", "type": "quantitative", "scale": {"domain": [-13.9, 263.4], "reverse": true, "nice": false, "zero": false}},
"y": {"field": "i", "type": "quantitative", "scale": {"domain": [-31.05, 95.26], "nice": false, "zero": false}},
"text": {"field": "label"}
}
}
]
}
